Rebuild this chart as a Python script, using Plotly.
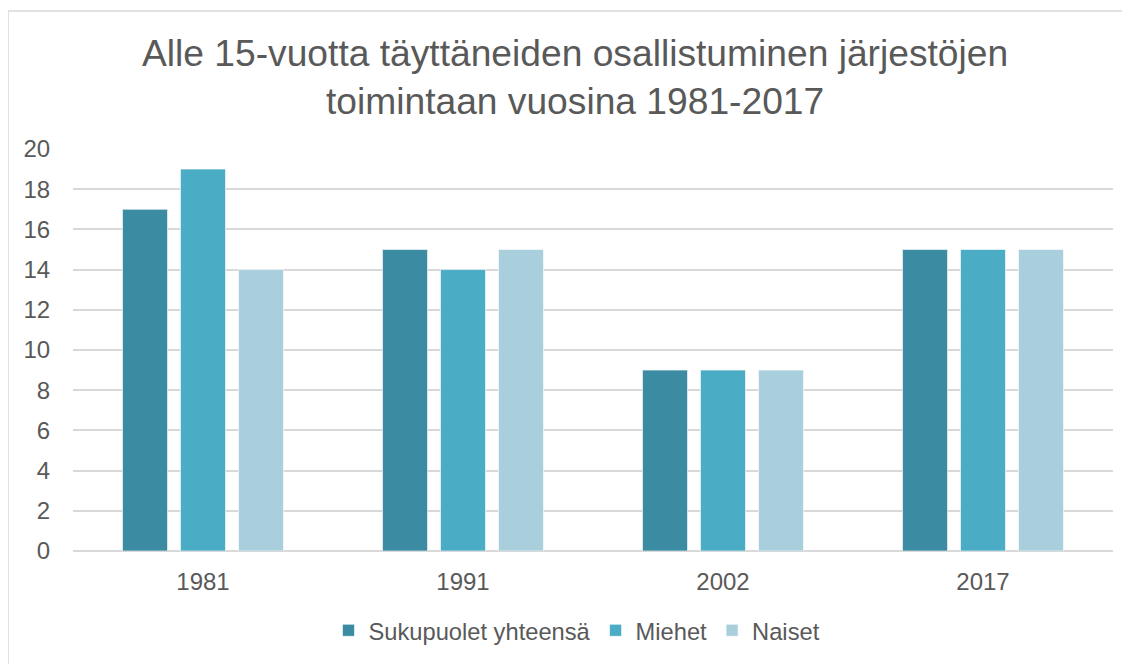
import plotly.graph_objects as go

years = ["1981", "1991", "2002", "2017"]
series_names = ["Sukupuolet yhteensä", "Miehet", "Naiset"]
total = [17, 15, 9, 15]
men = [19, 14, 9, 15]
women = [14, 15, 9, 15]
colors = ["#3B8BA2", "#4BACC6", "#A9CFDD"]
y_ticks = [0, 2, 4, 6, 8, 10, 12, 14, 16, 18, 20]

fig = go.Figure()
for name, vals, col in zip(series_names, [total, men, women], colors):
    fig.add_trace(go.Bar(
        x=years, y=vals, name=name,
        marker=dict(color=col, line=dict(color="rgba(255,255,255,0.6)", width=1)),
    ))

# page has an 8px body margin; compensate so the figure fills the window
OFF = 8
W, H = 1130 - OFF, 664 - OFF
PL, PR, PT, PB = 73, 1113, 149, 554  # target plot area in page pixels
L, T = PL - OFF, PT - OFF
R = W - (PR - OFF)
B = H - (PB - OFF)
pw, ph = PR - PL, PB - PT


def py(page_y):
    return (PB - page_y) / ph


def px(page_x):
    return (page_x - PL) / pw


fig.update_layout(
    width=W, height=H,
    margin=dict(l=L, r=R, t=T, b=B, pad=0),
    paper_bgcolor="white", plot_bgcolor="white",
    barmode="group", bargap=0.331, bargroupgap=0.224,
    font=dict(family="Liberation Sans, Arial, sans-serif", color="#595959"),
    showlegend=True,
    legend=dict(
        orientation="h", x=px(577), xanchor="center", y=py(634), yanchor="middle",
        font=dict(size=23.7, color="#595959"),
        itemwidth=30, traceorder="normal",
    ),
    xaxis=dict(
        showgrid=False, showline=False,
        ticks="outside", ticklen=9, tickcolor="rgba(0,0,0,0)",
        tickfont=dict(size=24, color="#595959"),
    ),
    yaxis=dict(
        range=[0, 20], tickvals=y_ticks,
        showgrid=True, gridcolor="#D9D9D9", gridwidth=1.7,
        zeroline=True, zerolinecolor="#D9D9D9", zerolinewidth=1.7,
        ticks="outside", ticklen=17, tickcolor="rgba(0,0,0,0)",
        tickfont=dict(size=24, color="#595959"),
    ),
    annotations=[dict(
        text="Alle 15-vuotta täyttäneiden osallistuminen järjestöjen<br>toimintaan vuosina 1981-2017",
        xref="paper", yref="paper", x=px(575), y=py(76),
        xanchor="center", yanchor="middle", showarrow=False,
        font=dict(size=37.2, color="#595959"),
    )],
    shapes=[dict(
        type="rect", xref="paper", yref="paper",
        x0=px(8), x1=px(1160),
        y0=py(700), y1=py(10),
        line=dict(color="#D9D9D9", width=1.5), layer="below",
    )],
)

fig.write_html("out.html")
